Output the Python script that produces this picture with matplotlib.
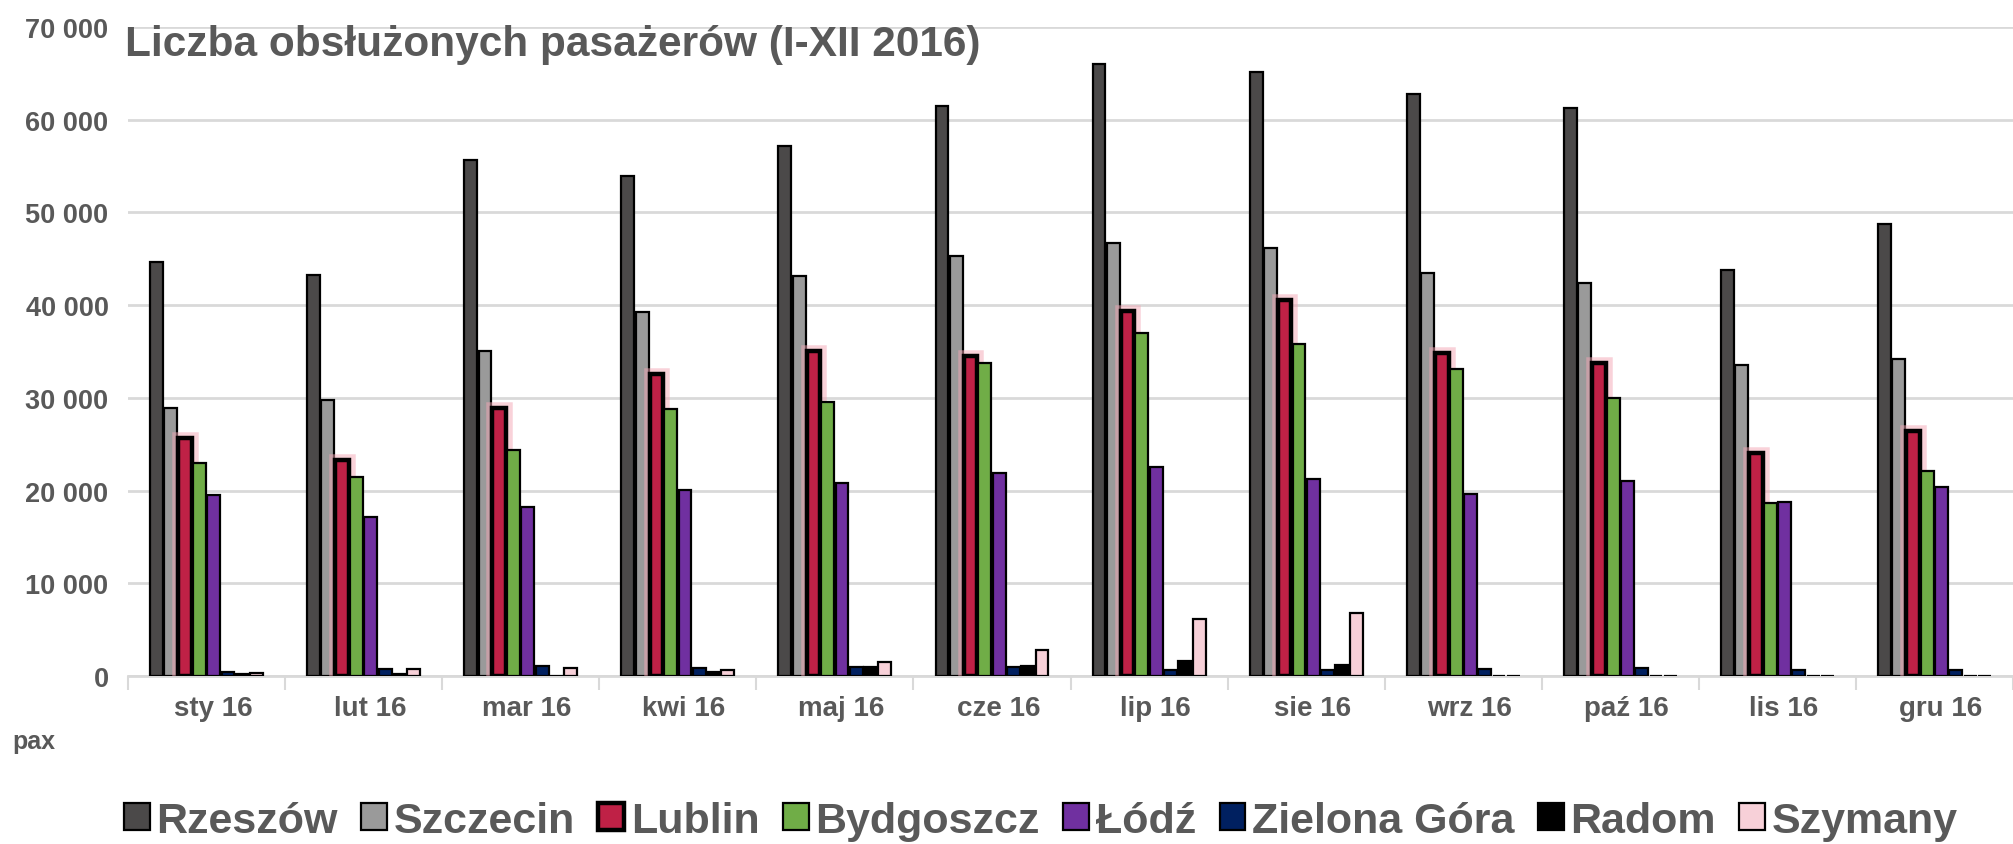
import numpy as np
import matplotlib
matplotlib.use("Agg")
import matplotlib.pyplot as plt
import matplotlib.patheffects as pe
from matplotlib.ticker import FuncFormatter

plt.rcParams['font.family'] = ['Liberation Sans', 'DejaVu Sans']
plt.rcParams['font.weight'] = 'bold'

months = ['sty 16', 'lut 16', 'mar 16', 'kwi 16', 'maj 16', 'cze 16',
          'lip 16', 'sie 16', 'wrz 16', 'paź 16', 'lis 16', 'gru 16']
airports = ['Rzeszów', 'Szczecin', 'Lublin', 'Bydgoszcz', 'Łódź',
            'Zielona Góra', 'Radom', 'Szymany']

rzeszow = [44700, 43300, 55600, 53900, 57200, 61500, 66000, 65100, 62800, 61300, 43800, 48800]
szczecin = [28900, 29800, 35000, 39300, 43100, 45300, 46700, 46200, 43500, 42400, 33500, 34200]
lublin = [25700, 23300, 28900, 32600, 35100, 34500, 39400, 40500, 34800, 33800, 24100, 26400]
bydgoszcz = [23000, 21500, 24400, 28800, 29600, 33800, 37000, 35800, 33100, 30000, 18700, 22100]
lodz = [19500, 17200, 18200, 20100, 20800, 21900, 22500, 21300, 19600, 21000, 18800, 20400]
zielona_gora = [430, 720, 1080, 830, 930, 1020, 600, 700, 770, 890, 680, 600]
radom = [200, 200, 0, 430, 930, 1100, 1580, 1160, 0, 0, 0, 0]
szymany = [350, 720, 830, 610, 1530, 2790, 6200, 6800, 0, 0, 0, 0]

series = [rzeszow, szczecin, lublin, bydgoszcz, lodz, zielona_gora, radom, szymany]
colors = ['#4b4949', '#9a9a9a', '#bf2146', '#70ad47', '#7030a0', '#002060', '#000000', '#f7d0d8']

text_gray = '#595959'
grid_gray = '#d9d9d9'

fig = plt.figure(figsize=(20.13, 8.45), dpi=100)
ax = fig.add_axes([0.0636, 0.1988, 0.9364, 0.7681])

x = np.arange(len(months))
n = len(series)
width = 0.091
for i, (vals, col) in enumerate(zip(series, colors)):
    offs = (i - (n - 1) / 2) * width
    if airports[i] == 'Lublin':
        bars = ax.bar(x + offs, vals, width * 0.95, color=col, edgecolor='black',
                      linewidth=3.2, label=airports[i], zorder=3)
        for b in bars:
            b.set_path_effects([pe.Stroke(linewidth=9, foreground='#f4a6b5', alpha=0.5),
                                pe.Normal()])
    else:
        ax.bar(x + offs, vals, width * 0.9, color=col, edgecolor='black',
               linewidth=1.6, label=airports[i], zorder=3)

ax.set_ylim(0, 70000)
ax.set_xlim(-0.5, len(months) - 0.5)
ax.set_yticks(np.arange(0, 70001, 10000))
ax.yaxis.set_major_formatter(FuncFormatter(lambda v, p: f'{int(v):,}'.replace(',', ' ')))
ax.grid(axis='y', color=grid_gray, linewidth=2, zorder=0)
ax.set_axisbelow(True)

ax.set_xticks(x + 0.04)
ax.set_xticklabels(months)
ax.set_xticks(np.arange(-0.5, len(months)), minor=True)
ax.tick_params(axis='x', which='major', length=0, pad=14, labelsize=20, labelcolor=text_gray)
ax.tick_params(axis='x', which='minor', length=10, width=1.5, color=grid_gray)
ax.tick_params(axis='y', length=0, pad=14, labelsize=19.5, labelcolor=text_gray)

for s in ['top', 'right', 'left']:
    ax.spines[s].set_visible(False)
ax.spines['bottom'].set_color(grid_gray)
ax.spines['bottom'].set_linewidth(2)

fig.text(125 / 2013, 1 - 45 / 845, 'Liczba obsłużonych pasażerów (I-XII 2016)',
         fontsize=30.5, fontweight='bold', color=text_gray, va='center', ha='left')
fig.text(12 / 2013, 1 - 742 / 845, 'pax', fontsize=18, fontweight='bold',
         color=text_gray, va='center', ha='left')

leg = fig.legend(loc='center', bbox_to_anchor=(0.517, 1 - 822 / 845), ncol=8,
                 frameon=False, fontsize=31, handlelength=0.6, handleheight=0.6,
                 handletextpad=0.15, columnspacing=0.55)
for t in leg.get_texts():
    t.set_color(text_gray)
    t.set_fontweight('bold')
for h in leg.legend_handles:
    h.set_path_effects([])

fig.savefig('out.png', dpi=100)
